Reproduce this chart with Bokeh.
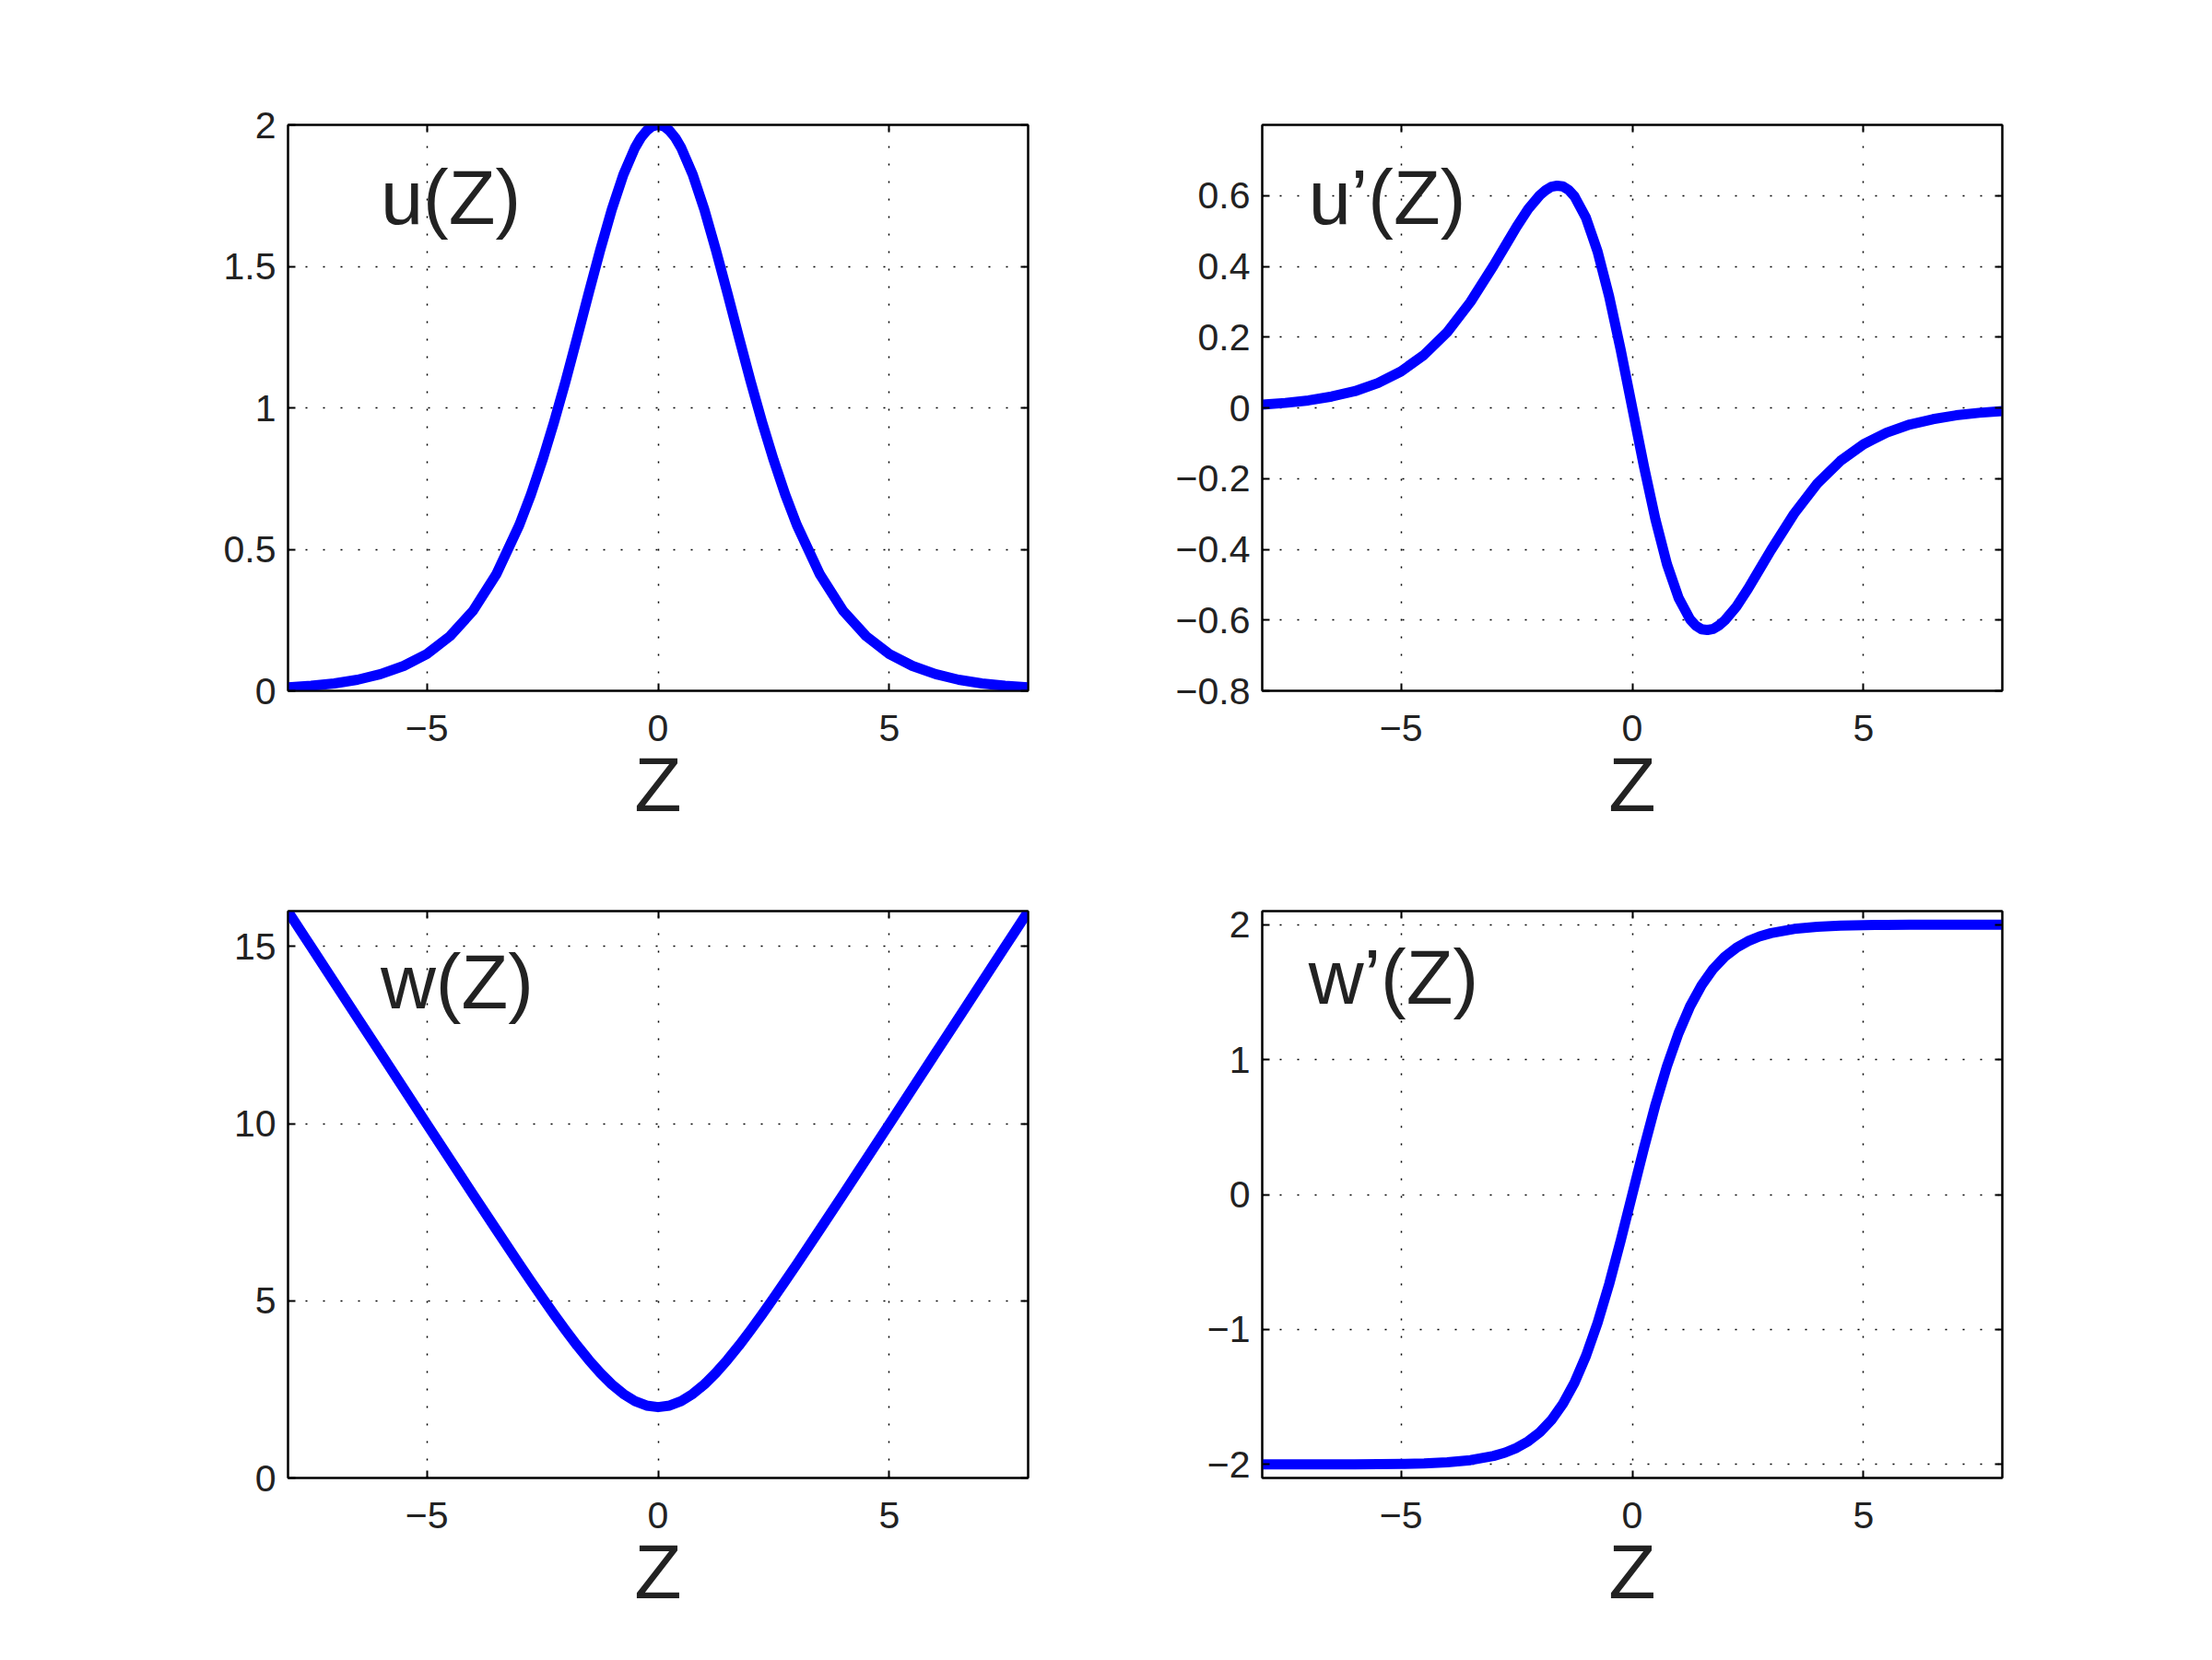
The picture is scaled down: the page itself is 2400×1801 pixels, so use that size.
from bokeh.plotting import figure
from bokeh.layouts import gridplot
from bokeh.models import FixedTicker, LinearAxis, CustomJSTickFormatter, Range1d
from bokeh.core.properties import value
from bokeh.embed import file_html
from bokeh.resources import INLINE

# ---------------- data ----------------
Z_u = [-8, -7.5, -7, -6.5, -6, -5.5, -5, -4.5, -4, -3.5, -3,
       -2.75, -2.5, -2.25, -2, -1.75, -1.5, -1.25, -1, -0.75, -0.5, -0.375, -0.25, -0.125,
       0, 0.125, 0.25, 0.375, 0.5, 0.75, 1, 1.25, 1.5, 1.75, 2, 2.25, 2.5, 2.75,
       3, 3.5, 4, 4.5, 5, 5.5, 6, 6.5, 7, 7.5, 8]
u_vals = [0.012, 0.018, 0.026, 0.039, 0.059, 0.088, 0.130, 0.193, 0.283, 0.411, 0.586,
          0.693, 0.815, 0.949, 1.094, 1.248, 1.405, 1.558, 1.701, 1.824, 1.919, 1.954, 1.979, 1.995,
          2.000, 1.995, 1.979, 1.954, 1.919, 1.824, 1.701, 1.558, 1.405, 1.248, 1.094, 0.949, 0.815, 0.693,
          0.586, 0.411, 0.283, 0.193, 0.130, 0.088, 0.059, 0.039, 0.026, 0.018, 0.012]

Z_du = [-8, -7.5, -7, -6.5, -6, -5.5, -5, -4.5, -4, -3.5, -3,
        -2.75, -2.5, -2.25, -2, -1.875, -1.75, -1.625, -1.5, -1.375, -1.25, -1, -0.75, -0.5, -0.25,
        0, 0.25, 0.5, 0.75, 1, 1.25, 1.375, 1.5, 1.625, 1.75, 1.875, 2, 2.25, 2.5, 2.75,
        3, 3.5, 4, 4.5, 5, 5.5, 6, 6.5, 7, 7.5, 8]
du_vals = [0.009, 0.014, 0.021, 0.032, 0.047, 0.070, 0.103, 0.150, 0.214, 0.299, 0.402,
           0.457, 0.512, 0.562, 0.601, 0.615, 0.625, 0.628, 0.626, 0.616, 0.598, 0.537, 0.442, 0.315, 0.164,
           0.0, -0.164, -0.315, -0.442, -0.537, -0.598, -0.616, -0.626, -0.628, -0.625, -0.615, -0.601,
           -0.562, -0.512, -0.457,
           -0.402, -0.299, -0.214, -0.150, -0.103, -0.070, -0.047, -0.032, -0.021, -0.014, -0.009]

Z_w = [-8, -7.5, -7, -6.5, -6, -5.5, -5, -4.5, -4, -3.5, -3,
       -2.75, -2.5, -2.25, -2, -1.75, -1.5, -1.25, -1, -0.75, -0.5, -0.25,
       0, 0.25, 0.5, 0.75, 1, 1.25, 1.5, 1.75, 2, 2.25, 2.5, 2.75,
       3, 3.5, 4, 4.5, 5, 5.5, 6, 6.5, 7, 7.5, 8]
w_vals = [15.989, 14.989, 13.991, 12.991, 11.991, 10.991, 9.992, 8.995, 8.002, 7.014, 6.036,
          5.555, 5.081, 4.618, 4.168, 3.738, 3.335, 2.966, 2.641, 2.372, 2.169, 2.043,
          2.000, 2.043, 2.169, 2.372, 2.641, 2.966, 3.335, 3.738, 4.168, 4.618, 5.081, 5.555,
          6.036, 7.014, 8.002, 8.995, 9.992, 10.991, 11.991, 12.991, 13.991, 14.989, 15.989]
dw_vals = [-2.0, -2.0, -2.0, -2.0, -1.999, -1.998, -1.996, -1.992, -1.984, -1.968, -1.937,
           -1.912, -1.877, -1.828, -1.762, -1.672, -1.551, -1.395, -1.195, -0.951, -0.664, -0.341,
           0.0, 0.341, 0.664, 0.951, 1.195, 1.395, 1.551, 1.672, 1.762, 1.828, 1.877, 1.912,
           1.937, 1.968, 1.984, 1.992, 1.996, 1.998, 1.999, 2.0, 2.0, 2.0, 2.0]

x_ticks = [-5, 0, 5]
u_ticks = [0, 0.5, 1, 1.5, 2]
du_ticks = [-0.8, -0.6, -0.4, -0.2, 0, 0.2, 0.4, 0.6]
w_ticks = [0, 5, 10, 15]
dw_ticks = [-2, -1, 0, 1, 2]

titles = ["u(Z)", "u\u2019(Z)", "w(Z)", "w\u2019(Z)"]
title_x = [-6.0, -7.0, -6.0, -7.0]
title_y = [1.743, 0.595, 13.99, 1.605]
x_label = "Z"

FONT = "Liberation Sans"
TXT = "#222222"
BLUE = "#0000ff"

fmt_js = "return Number(tick.toFixed(2)).toString().replace('-', '\u2212');"


def make(xs, ys, yr, yticks, width, height, bl, br, bt, bb, title, tx, ty):
    p = figure(width=width, height=height, x_range=Range1d(-8, 8), y_range=Range1d(*yr),
               output_backend="svg", toolbar_location=None,
               min_border_left=bl, min_border_right=br, min_border_top=bt, min_border_bottom=bb)
    p.background_fill_color = "white"
    p.border_fill_color = "white"
    p.outline_line_color = "black"
    p.outline_line_width = 2

    p.add_layout(LinearAxis(), "right")
    p.add_layout(LinearAxis(), "above")

    for ax in p.xaxis:
        ax.ticker = FixedTicker(ticks=x_ticks)
    for ax in p.yaxis:
        ax.ticker = FixedTicker(ticks=yticks)
    for ax in p.axis:
        ax.axis_line_color = "black"
        ax.axis_line_width = 2
        ax.major_tick_in = 8
        ax.major_tick_out = 0
        ax.major_tick_line_color = "black"
        ax.major_tick_line_width = 2
        ax.minor_tick_line_color = None
        ax.major_label_text_font = FONT
        ax.major_label_text_font_size = "41px"
        ax.major_label_text_color = TXT
        ax.axis_label_text_font = FONT
        ax.axis_label_text_font_style = "normal"
        ax.axis_label_text_color = TXT
    # hide labels on the top / right box axes
    p.right[0].formatter = CustomJSTickFormatter(code="return '';")
    p.above[0].formatter = CustomJSTickFormatter(code="return '';")
    p.below[0].formatter = CustomJSTickFormatter(code=fmt_js)
    p.left[0].formatter = CustomJSTickFormatter(code=fmt_js)
    p.below[0].axis_label = x_label
    p.below[0].axis_label_text_font_size = "84px"
    p.below[0].axis_label_standoff = -3
    p.below[0].major_label_standoff = 26
    p.left[0].major_label_standoff = 13

    p.xgrid.ticker = FixedTicker(ticks=x_ticks)
    p.ygrid.ticker = FixedTicker(ticks=yticks)
    for g in (p.xgrid[0], p.ygrid[0]):
        g.grid_line_color = "black"
        g.grid_line_width = 1.5
        g.grid_line_dash = "2 17"

    p.line(xs, ys, line_color=BLUE, line_width=11, line_join="round", line_cap="round")
    p.text(x=[tx], y=[ty], text=[title], text_font=value(FONT), text_font_size="83px",
           text_color=TXT, text_align="left", text_baseline="alphabetic")
    return p


p1 = make(Z_u, u_vals, (0, 2), u_ticks, 1165, 929, 312, 50, 135, 180, titles[0], title_x[0], title_y[0])
p2 = make(Z_du, du_vals, (-0.8, 0.8), du_ticks, 1057, 929, 204, 50, 135, 180, titles[1], title_x[1], title_y[1])
p3 = make(Z_w, w_vals, (0, 16), w_ticks, 1165, 849, 312, 50, 59, 175, titles[2], title_x[2], title_y[2])
p4 = make(Z_w, dw_vals, (-2.1, 2.1), dw_ticks, 1057, 849, 204, 50, 59, 175, titles[3], title_x[3], title_y[3])

grid = gridplot([[p1, p2], [p3, p4]], toolbar_location=None)

open("out.html", "w").write(file_html(grid, INLINE))
